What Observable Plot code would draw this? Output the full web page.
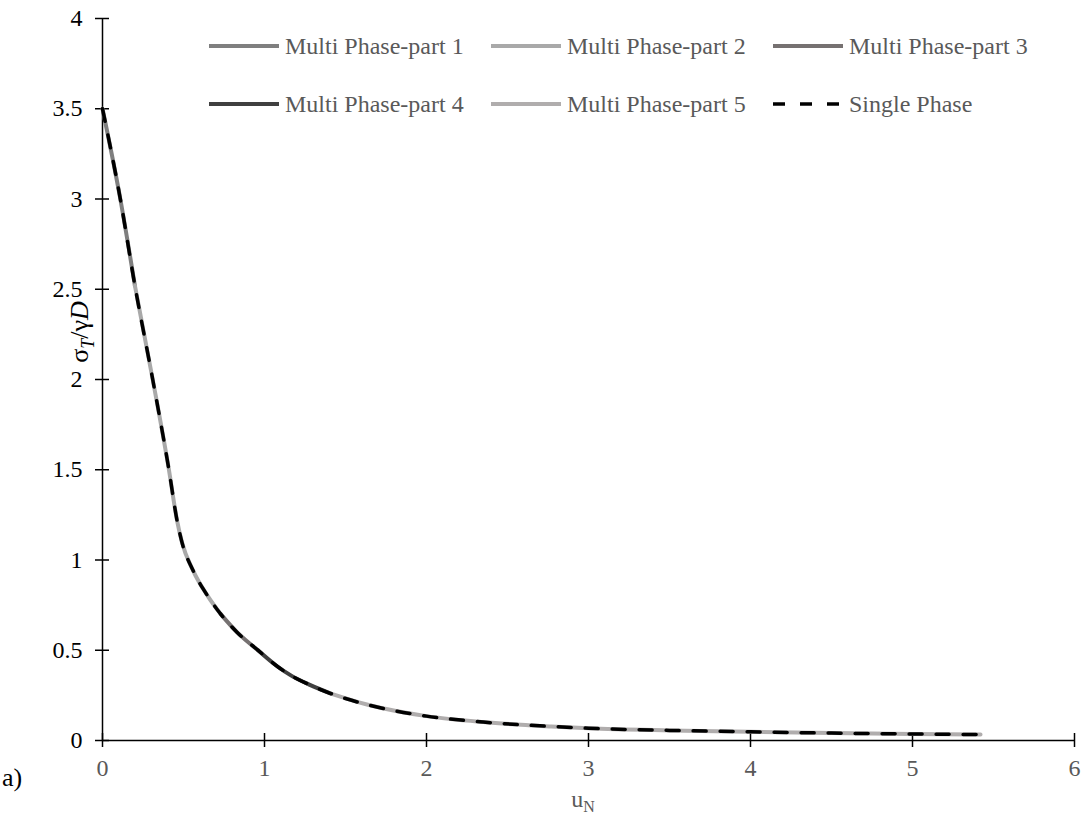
<!DOCTYPE html>
<html>
<head>
<meta charset="utf-8">
<script src="https://cdn.jsdelivr.net/npm/d3@7"></script>
<script src="https://cdn.jsdelivr.net/npm/@observablehq/plot@0.6"></script>
<style>
  html, body { margin: 0; padding: 0; background: #fff; }
  #wrap { position: relative; width: 1084px; height: 820px; font-family: "Liberation Serif", "DejaVu Serif", serif; }
  .legend-item { position: absolute; display: flex; align-items: center; font-size: 24px; color: #595959; white-space: nowrap; }
  .legend-item svg { margin-right: 6px; }
</style>
</head>
<body>
<div id="wrap"></div>
<script>
// Normalised displacement u_N and normalised stress σT/γD
// Single-phase solution
const uSingle = [0, 0.11, 0.2, 0.31, 0.41, 0.46, 0.49, 0.56, 0.65, 0.73, 0.83, 0.96, 1.08, 1.16, 1.28, 1.41, 1.65, 2.0, 2.35, 2.77, 3.0, 3.5, 4.0, 4.5, 5.0, 5.42];
const sSingle = [3.5, 3.0, 2.52, 2.0, 1.5, 1.22, 1.1, 0.94, 0.80, 0.70, 0.60, 0.50, 0.41, 0.362, 0.308, 0.26, 0.195, 0.135, 0.102, 0.078, 0.068, 0.056, 0.048, 0.041, 0.036, 0.033];

// Multi-phase solution, computed in five parts
const part1U = [0, 0.11, 0.2];
const part1S = [3.5, 3.0, 2.52];
const part2U = [0.2, 0.31, 0.41, 0.46, 0.49, 0.56, 0.65, 0.73];
const part2S = [2.52, 2.0, 1.5, 1.22, 1.1, 0.94, 0.80, 0.70];
const part3U = [0.73, 0.83, 0.96];
const part3S = [0.70, 0.60, 0.50];
const part4U = [0.96, 1.08, 1.16, 1.28, 1.41];
const part4S = [0.50, 0.41, 0.362, 0.308, 0.26];
const part5U = [1.41, 1.65, 2.0, 2.35, 2.77, 3.0, 3.5, 4.0, 4.5, 5.0, 5.42];
const part5S = [0.26, 0.195, 0.135, 0.102, 0.078, 0.068, 0.056, 0.048, 0.041, 0.036, 0.033];

const seriesNames = ["Multi Phase-part 1", "Multi Phase-part 2", "Multi Phase-part 3",
                     "Multi Phase-part 4", "Multi Phase-part 5", "Single Phase"];
const seriesColors = ["#7f7f7f", "#a9a9a9", "#767171", "#404040", "#b0adad", "#000000"];

const xTicks = [0, 1, 2, 3, 4, 5, 6];
const yTicks = [0, 0.5, 1, 1.5, 2, 2.5, 3, 3.5, 4];

const toRows = (us, ss) => us.map((u, i) => ({u, s: ss[i]}));
const parts = [
  toRows(part1U, part1S), toRows(part2U, part2S), toRows(part3U, part3S),
  toRows(part4U, part4S), toRows(part5U, part5S)
];
const single = toRows(uSingle, sSingle);

const font = "'Liberation Serif', 'DejaVu Serif', serif";

const chart = Plot.plot({
  width: 1084,
  height: 820,
  marginLeft: 102,
  marginRight: 10,
  marginTop: 18,
  marginBottom: 80,
  style: {fontFamily: font, fontSize: "24px", background: "#fff", overflow: "visible"},
  x: {domain: [0, 6]},
  y: {domain: [0, 4]},
  marks: [
    // axis lines
    Plot.ruleY([0], {stroke: "#000", strokeWidth: 1.5}),
    Plot.ruleX([0], {stroke: "#000", strokeWidth: 1.5}),
    // tick marks crossing the axes
    Plot.ruleX(xTicks, {y1: 0, y2: 0, insetTop: -7, insetBottom: -7, stroke: "#000", strokeWidth: 1.5}),
    Plot.ruleY(yTicks, {x1: 0, x2: 0, insetLeft: -7, insetRight: -7, stroke: "#000", strokeWidth: 1.5}),
    // tick labels
    Plot.axisX({ticks: xTicks, tickSize: 0, tickPadding: 18, fill: "#595959", label: null, tickFormat: d => String(d)}),
    Plot.axisY({ticks: yTicks, tickSize: 0, tickPadding: 20, fill: "#000", label: null, tickFormat: d => String(d)}),
    // multi-phase parts
    ...parts.map((rows, i) => Plot.line(rows, {x: "u", y: "s", stroke: seriesColors[i], strokeWidth: 4, curve: "monotone-x"})),
    // single phase
    Plot.line(single, {x: "u", y: "s", stroke: seriesColors[5], strokeWidth: 3.5, strokeDasharray: "13,14", curve: "monotone-x"})
  ]
});

const wrap = document.getElementById("wrap");
wrap.appendChild(chart);

// axis titles and panel tag, drawn as SVG text with sub-/italic spans
const svg = d3.select(chart);
const yl = svg.append("text")
  .attr("transform", "translate(88,332) rotate(-90)")
  .attr("text-anchor", "middle")
  .attr("font-family", font)
  .attr("font-size", 26)
  .attr("fill", "#000");
yl.append("tspan").text("σ");
yl.append("tspan").attr("font-style", "italic").attr("font-size", 18).attr("dy", 6).text("T");
yl.append("tspan").attr("dy", -6).text("/γ");
yl.append("tspan").attr("font-style", "italic").text("D");

const xl = svg.append("text")
  .attr("x", 583).attr("y", 807)
  .attr("text-anchor", "middle")
  .attr("font-family", font)
  .attr("font-size", 24)
  .attr("fill", "#595959");
xl.append("tspan").text("u");
xl.append("tspan").attr("font-size", 16).attr("dy", 5).text("N");

svg.append("text")
  .attr("x", 12).attr("y", 786)
  .attr("font-family", font)
  .attr("font-size", 26)
  .attr("fill", "#000")
  .text("a)");

// legend laid out in two rows of three
const legendX = [209, 491, 773];
const legendY = [46, 104];
seriesNames.forEach((name, i) => {
  const item = document.createElement("div");
  item.className = "legend-item";
  item.style.left = legendX[i % 3] + "px";
  item.style.top = (legendY[Math.floor(i / 3)] - 15) + "px";
  item.style.height = "30px";
  const dashed = i === 5;
  item.innerHTML =
    `<svg width="70" height="10"><line x1="0" x2="70" y1="5" y2="5" stroke="${seriesColors[i]}"
      stroke-width="${dashed ? 3.5 : 4}" ${dashed ? 'stroke-dasharray="12,15"' : ''} stroke-linecap="${dashed ? 'butt' : 'round'}"/></svg>` +
    `<span>${name}</span>`;
  wrap.appendChild(item);
});
</script>
</body>
</html>
